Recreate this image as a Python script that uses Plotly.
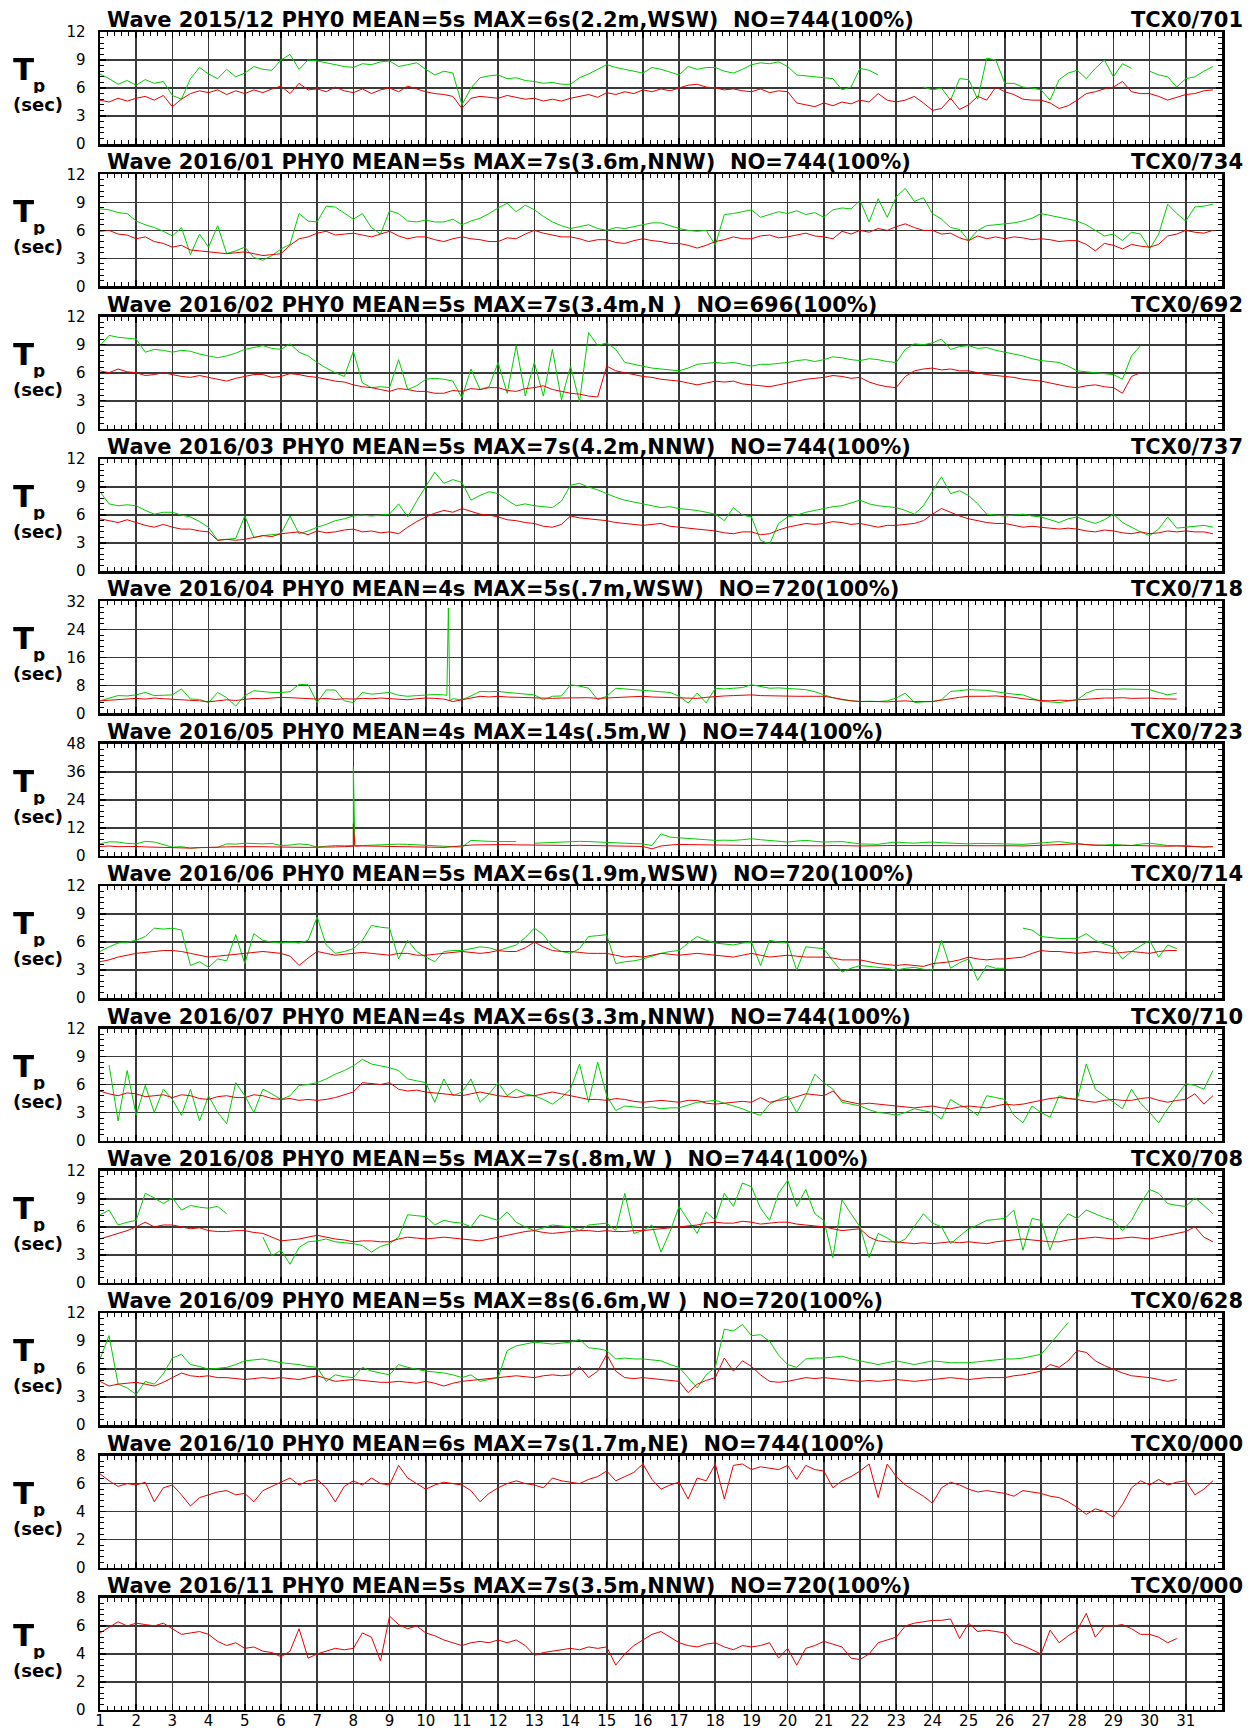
import plotly.graph_objects as go

# ---------------- metadata ----------------
titles = [
    "Wave 2015/12 PHY0 MEAN=5s MAX=6s(2.2m,WSW)\u00a0 NO=744(100%)",
    "Wave 2016/01 PHY0 MEAN=5s MAX=7s(3.6m,NNW)\u00a0 NO=744(100%)",
    "Wave 2016/02 PHY0 MEAN=5s MAX=7s(3.4m,N\u00a0)\u00a0 NO=696(100%)",
    "Wave 2016/03 PHY0 MEAN=5s MAX=7s(4.2m,NNW)\u00a0 NO=744(100%)",
    "Wave 2016/04 PHY0 MEAN=4s MAX=5s(.7m,WSW)\u00a0 NO=720(100%)",
    "Wave 2016/05 PHY0 MEAN=4s MAX=14s(.5m,W\u00a0)\u00a0 NO=744(100%)",
    "Wave 2016/06 PHY0 MEAN=5s MAX=6s(1.9m,WSW)\u00a0 NO=720(100%)",
    "Wave 2016/07 PHY0 MEAN=4s MAX=6s(3.3m,NNW)\u00a0 NO=744(100%)",
    "Wave 2016/08 PHY0 MEAN=5s MAX=7s(.8m,W\u00a0)\u00a0 NO=744(100%)",
    "Wave 2016/09 PHY0 MEAN=5s MAX=8s(6.6m,W\u00a0)\u00a0 NO=720(100%)",
    "Wave 2016/10 PHY0 MEAN=6s MAX=7s(1.7m,NE)\u00a0 NO=744(100%)",
    "Wave 2016/11 PHY0 MEAN=5s MAX=7s(3.5m,NNW)\u00a0 NO=720(100%)",
]
codes = ["TCX0/701", "TCX0/734", "TCX0/692", "TCX0/737", "TCX0/718", "TCX0/723",
         "TCX0/714", "TCX0/710", "TCX0/708", "TCX0/628", "TCX0/000", "TCX0/000"]
ymaxes = [12, 12, 12, 12, 32, 48, 12, 12, 12, 12, 8, 8]
ydticks = [3, 3, 3, 3, 8, 12, 3, 3, 3, 3, 2, 2]
day_ticks = list(range(1, 32))
samples_per_day = 4   # values below are 6-hourly readings

# ---------------- data (6-hourly Tp, seconds) ----------------
red_1512 = [4.7,4.5,4.9,4.6, 4.9,5.1,4.7,5.2, 4.0,4.8,5.4,5.7, 5.5,5.8,5.3,5.7,
            5.4,5.8,5.5,5.9, 6.2,5.4,6.5,5.8, 5.9,5.6,6.1,5.7, 5.5,5.9,5.4,5.8,
            6.0,5.6,6.2,5.9, 5.6,5.4,5.3,5.1, 3.8,4.9,5.1,5.0, 4.9,5.2,5.0,4.8,
            4.9,4.6,4.8,4.6, 4.9,5.1,5.3,5.0, 5.5,5.3,5.6,5.4, 5.8,5.6,5.9,5.7,
            6.0,6.3,6.4,6.1, 6.0,5.8,5.9,5.7, 5.6,5.9,5.5,5.7, 5.6,4.4,4.2,4.0,
            4.4,4.1,4.5,4.3, 4.7,4.5,5.4,4.7, 4.5,4.7,5.1,4.4, 3.6,3.8,4.9,3.7,
            4.2,5.1,4.7,6.1, 5.6,5.3,4.8,4.7, 4.7,4.4,3.8,4.1, 4.7,5.4,5.6,5.9,
            6.1,6.7,5.6,5.4, 5.4,5.1,4.7,5.0, 5.3,5.4,5.7,5.8]
green_1512 = [7.5,7.0,6.4,6.8, 6.3,6.9,6.5,6.7, 5.2,4.8,7.0,8.2, 7.5,7.0,8.0,7.2,
              7.6,8.3,8.0,7.9, 9.0,9.6,8.0,9.0, 8.9,8.7,8.5,8.3, 8.2,8.6,8.5,8.8,
              8.9,8.3,8.5,8.7, 8.0,7.4,7.8,7.6, 4.2,6.0,7.1,7.3, 7.4,7.0,7.1,6.8,
              6.7,6.5,6.6,6.4, 6.4,7.1,7.5,8.0, 8.5,8.2,8.0,7.8, 7.6,8.2,8.0,7.7,
              7.4,8.3,8.0,8.2, 8.2,7.8,7.6,8.0, 8.5,8.7,8.6,8.8, 8.3,7.4,7.3,7.2,
              7.1,7.0,5.8,6.1, 8.1,7.9,7.4,None, None,None,None,6.1, 5.8,6.0,4.7,7.0,
              6.9,4.8,9.2,9.0, 6.5,6.5,6.1,6.0, 5.8,4.7,6.9,7.6, 7.9,7.0,8.1,9.0,
              7.2,8.6,8.1,None, 7.8,7.4,7.2,6.1, 7.0,7.2,7.8,8.3]

red_1601 = [5.9,6.0,5.6,5.5, 5.1,5.3,4.8,4.6, 4.2,4.4,3.9,3.8, 3.7,3.6,3.5,3.6,
            3.7,3.5,3.3,3.4, 3.5,4.4,5.1,5.3, 5.7,5.9,5.5,5.6, 5.7,5.5,5.3,5.6,
            5.9,5.4,5.1,5.3, 5.3,5.0,4.8,5.1, 5.3,5.1,5.0,4.8, 4.8,5.2,5.1,5.6,
            6.0,5.7,5.5,5.3, 5.3,5.1,4.8,5.0, 5.0,4.7,4.6,4.9, 5.1,4.9,4.8,4.6,
            4.6,4.4,4.1,4.4, 4.8,5.0,5.3,5.1, 5.1,5.4,5.5,5.2, 5.3,5.5,5.7,5.4,
            5.3,5.1,5.9,5.6, 6.0,5.8,6.2,6.0, 6.4,6.7,6.3,6.0, 6.0,5.6,5.7,5.2,
            4.9,5.4,5.1,5.3, 5.1,5.3,5.2,5.0, 5.1,5.0,4.8,4.9, 4.9,4.5,3.8,4.6,
            4.4,4.0,4.5,4.3, 4.2,4.5,5.4,5.6, 6.0,5.8,5.7,6.0]
green_1601 = [8.3,8.2,7.9,7.8, 7.0,6.6,6.3,5.9, 5.4,6.3,3.4,5.6, 4.2,6.5,3.5,3.8,
              4.2,3.1,2.8,3.3, 4.0,4.5,7.8,7.0, 6.9,8.6,8.5,7.8, 7.2,7.8,6.3,5.6,
              8.1,7.8,7.0,6.9, 7.1,6.9,6.9,7.2, 6.6,7.0,7.3,7.8, 8.4,8.9,8.0,8.7,
              8.2,7.5,6.9,6.5, 6.2,6.4,6.6,6.2, 6.0,6.3,6.2,6.4, 6.6,6.8,6.8,6.5,
              6.2,6.0,5.9,6.0, 4.4,7.7,7.8,8.0, 8.2,7.4,7.7,8.0, 7.8,8.1,7.7,7.9,
              7.4,8.2,8.4,8.3, 9.2,6.9,9.4,7.4, 9.6,10.5,9.1,9.5, 7.8,7.2,6.3,6.1,
              4.9,6.0,6.5,6.6, 6.7,6.8,7.0,7.3, 7.8,7.6,7.4,7.2, 7.0,6.6,6.0,5.4,
              5.6,4.9,5.8,5.6, 4.0,5.6,8.8,7.8, 7.0,8.5,8.6,8.8]

red_1602 = [6.2,6.0,6.4,6.1, 6.0,5.7,5.8,6.0, 5.8,5.6,5.5,5.7, 5.5,5.3,5.1,5.4,
            5.6,5.8,5.8,5.5, 5.6,5.9,5.8,5.6, 5.5,5.3,5.1,5.0, 4.7,4.5,4.4,4.2,
            4.0,4.3,4.2,4.0, 4.0,3.8,3.8,4.1, 4.0,4.3,4.2,4.4, 4.4,4.1,4.0,4.3,
            4.4,4.6,4.2,4.0, 3.8,3.7,3.5,3.4, 6.7,6.2,6.0,5.8, 5.6,5.5,5.3,5.2,
            5.1,4.9,4.7,4.9, 5.1,5.0,5.1,4.8, 4.7,4.6,4.5,4.7, 4.9,5.1,5.3,5.4,
            5.5,5.7,5.6,5.4, 5.5,5.0,4.7,4.5, 4.4,5.6,6.2,6.4, 6.5,6.3,6.4,6.2,
            6.2,6.0,5.8,5.7, 5.6,5.5,5.3,5.2, 5.1,4.9,4.7,4.5, 4.4,4.6,4.7,4.5,
            4.4,3.8,5.6,6.0]
green_1602 = [8.9,10.0,9.8,9.7, 9.6,8.2,8.5,8.4, 8.2,8.4,8.3,8.0, 7.8,7.6,7.8,8.1,
              8.5,8.7,8.9,8.6, 8.5,9.1,8.2,7.8, 7.1,6.5,6.0,5.6, 8.3,4.9,4.4,4.5,
              4.4,7.4,4.2,4.6, 5.3,5.4,5.3,5.1, 3.3,6.4,4.2,4.5, 7.1,3.8,8.9,3.5,
              7.1,3.5,8.5,3.1, 6.7,2.9,10.3,8.9, 9.2,8.5,7.1,6.9, 6.7,6.5,6.4,6.3,
              6.2,6.5,6.9,7.0, 7.1,7.0,7.1,6.9, 6.7,6.9,6.9,7.0, 7.1,7.3,7.4,7.2,
              7.4,7.7,7.6,7.4, 7.3,7.5,7.4,7.2, 7.1,8.5,9.1,9.0, 9.2,9.6,8.5,8.8,
              8.9,8.6,8.7,8.4, 8.2,8.0,7.8,7.5, 7.3,7.2,7.1,6.7, 6.2,6.1,6.0,5.9,
              5.8,5.3,7.8,8.9]

red_1603 = [5.6,5.4,5.2,5.5, 5.2,4.9,4.7,5.0, 4.7,4.5,4.5,4.3, 4.2,3.3,3.4,3.3,
            3.4,3.6,3.8,3.7, 4.0,4.1,4.2,3.9, 4.3,4.1,4.2,4.4, 4.5,4.2,4.3,4.1,
            4.2,4.0,4.7,5.3, 5.8,6.2,6.5,6.3, 6.7,6.4,6.1,6.0, 5.8,5.5,5.4,5.2,
            5.1,4.8,4.7,5.0, 5.9,5.7,5.6,5.5, 5.4,5.2,5.1,5.0, 4.9,5.0,5.1,4.8,
            4.7,4.6,4.5,4.4, 4.3,4.1,4.0,4.2, 4.2,3.9,4.0,4.4, 4.7,4.9,5.1,5.0,
            5.1,5.3,5.2,5.0, 5.1,4.9,4.7,4.9, 4.9,5.0,5.1,5.4, 6.1,6.7,6.3,5.9,
            5.6,5.4,5.2,5.1, 5.1,4.9,4.7,4.8, 4.7,4.6,4.5,4.6, 4.5,4.3,4.2,4.4,
            4.3,4.1,4.0,4.2, 4.0,4.1,4.3,4.2, 4.3,4.2,4.2,4.0]
green_1603 = [8.5,7.2,7.0,7.1, 7.0,6.5,6.1,6.3, 6.3,6.0,5.8,5.3, 4.7,3.3,3.4,3.5,
              5.9,3.6,3.8,3.9, 4.0,5.9,4.0,4.3, 4.7,5.0,5.4,5.6, 5.9,6.0,5.9,6.0,
              6.1,7.2,5.8,7.5, 9.0,10.6,9.4,9.8, 9.5,7.6,8.1,8.5, 8.3,7.6,7.0,7.2,
              7.0,6.9,6.8,7.5, 9.2,9.4,9.0,8.7, 8.3,7.9,7.6,7.4, 7.2,7.0,6.8,6.9,
              6.7,6.6,6.5,6.3, 6.1,5.4,6.8,6.0, 5.8,3.3,2.9,5.1, 5.8,6.0,6.3,6.5,
              6.7,6.9,7.0,7.3, 7.6,7.2,7.0,6.9, 6.8,6.5,6.1,7.0, 8.6,10.1,8.3,8.6,
              8.1,7.2,6.1,6.0, 5.9,6.0,6.1,5.9, 5.8,5.5,5.2,5.6, 5.8,5.4,5.1,5.5,
              6.1,5.2,4.7,4.2, 3.8,4.5,5.8,4.6, 4.7,4.8,4.9,4.7]

red_1604 = [3.6,3.8,4.0,4.2, 4.3,4.1,4.4,4.2, 4.1,4.0,3.8,3.6, 3.3,3.6,3.9,3.7,
            4.1,4.3,4.2,4.4, 4.6,4.5,4.3,4.1, 4.1,4.3,4.0,4.2, 4.1,4.3,4.2,4.4,
            4.3,4.1,3.9,4.2, 4.4,4.3,4.1,3.4, 3.9,4.3,4.9,4.7, 4.9,4.7,4.6,4.5,
            4.4,4.2,4.3,4.4, 4.4,4.6,4.5,4.3, 4.4,4.5,4.7,4.8, 4.9,4.7,4.6,4.5,
            4.4,4.2,4.3,4.6, 4.9,5.0,5.1,5.2, 5.3,5.1,5.0,5.1, 5.0,4.9,4.9,4.8,
            4.9,4.5,4.0,3.6, 3.4,3.5,3.4,3.3, 3.4,3.6,3.4,3.5, 3.4,3.8,4.3,4.6,
            4.9,4.8,4.9,5.0, 4.9,4.6,4.2,3.9, 3.7,3.6,3.8,3.7, 3.9,4.1,4.3,4.4,
            4.4,4.5,4.3,4.4, 4.4,4.2,4.1,4.1]
green_1604 = [3.6,4.4,5.1,5.0, 5.3,6.0,5.1,5.2, 5.3,7.0,4.1,4.0, 3.1,6.0,4.5,2.1,
              5.1,6.5,6.2,6.0, 6.0,6.2,8.3,8.2, 3.1,6.7,6.7,3.6, 3.1,6.0,5.5,5.7,
              6.0,5.2,4.9,5.1, 5.3,5.4,5.3,4.2, 3.9,5.0,6.3,6.2, 6.3,6.0,5.8,5.5,
              5.3,3.9,4.9,5.0, 8.2,7.8,7.2,3.9, 4.9,7.2,7.0,6.9, 6.8,6.6,6.3,6.0,
              4.9,3.0,5.8,3.0, 7.2,7.0,7.2,7.4, 8.2,7.6,7.2,7.3, 7.2,7.0,6.8,6.2,
              5.3,4.5,3.9,3.6, 3.4,3.5,3.4,3.6, 4.4,5.8,3.1,3.3, 3.4,3.9,6.3,6.5,
              6.8,6.7,6.6,6.2, 5.8,5.5,5.3,4.4, 3.4,3.3,3.1,3.5, 3.9,5.8,6.8,6.9,
              6.8,7.0,7.0,6.9, 6.8,6.0,5.3,5.8]
# single-hour spikes: (day, value before, peak, value after)
spikes_green_1604 = [(10.625, 5.2, 30.1, 3.6)]

red_1605 = [4.0,4.2,3.9,4.1, 4.0,3.8,3.7,3.6, 3.4,3.5,3.3,3.5, 3.5,3.6,3.8,3.9,
            4.0,4.1,3.9,3.8, 3.7,3.6,3.5,3.6, 3.7,3.6,3.8,3.9, 4.1,4.2,4.0,4.1,
            4.0,3.9,3.8,3.7, 3.7,3.8,3.6,3.9, 4.4,4.6,4.7,4.8, 4.9,4.8,4.7,4.6,
            4.6,4.5,4.6,4.5, 4.4,4.5,4.4,4.3, 4.4,4.3,4.2,4.1, 4.0,3.0,4.2,4.6,
            4.9,4.8,4.7,4.6, 4.6,4.5,4.6,4.5, 4.4,4.5,4.6,4.4, 4.4,4.3,4.5,4.4,
            4.3,4.4,4.2,4.3, 4.2,4.1,4.3,4.4, 4.4,4.5,4.4,4.3, 4.4,4.5,4.6,4.4,
            4.4,4.3,4.5,4.6, 4.5,4.3,4.2,4.4, 4.6,4.8,5.0,5.1, 5.1,4.8,4.6,4.5,
            4.3,4.5,4.4,4.2, 4.4,4.3,4.1,4.2, 4.0,3.9,3.8,3.9]
green_1605 = [5.1,6.0,5.9,5.3, 5.1,6.2,5.9,4.8, 3.7,3.9,3.3,3.5, 3.4,3.6,5.1,5.0,
              5.4,5.2,5.1,5.3, 4.4,4.6,5.1,4.8, 3.7,4.1,4.4,4.3, 4.4,4.4,4.6,4.8,
              5.1,5.0,4.9,4.7, 4.4,4.2,4.0,3.8, 3.7,6.6,6.3,6.2, 6.1,6.2,6.1,None,
              5.4,5.6,5.9,6.0, 6.1,6.2,6.1,6.0, 5.9,5.7,5.4,5.2, 5.1,4.4,9.4,8.0,
              7.7,7.3,7.0,6.8, 6.6,6.7,6.6,6.9, 7.3,6.9,6.6,6.3, 5.9,6.3,6.6,6.2,
              5.9,6.0,6.1,5.6, 5.1,5.0,4.9,5.5, 5.9,5.6,5.4,5.7, 5.9,5.6,5.4,5.2,
              5.1,5.3,5.4,5.2, 5.1,5.0,4.9,5.2, 5.4,5.8,6.1,5.6, 5.1,4.7,4.4,4.6,
              4.9,4.6,4.4,5.0, 5.4,4.9,4.4,4.3, 4.4,4.0,3.7,3.9]
spikes_red_1605 = [(8.0, 4.0, 13.7, 4.1)]
spikes_green_1605 = [(8.0, 4.3, 38.0, 4.4)]

red_1606 = [3.9,4.1,4.4,4.6, 4.8,4.9,5.0,5.1, 5.1,5.0,4.8,4.6, 4.4,4.5,4.6,4.7,
            4.8,4.9,5.0,4.9, 4.8,4.5,3.5,4.3, 5.0,4.8,4.6,4.7, 4.8,4.9,4.8,4.7,
            4.6,4.8,4.8,4.6, 4.6,4.7,4.8,4.9, 5.0,4.9,4.8,4.9, 5.1,5.0,5.0,5.4,
            6.0,5.5,5.1,5.0, 5.0,4.9,4.8,4.8, 4.8,4.6,4.4,4.5, 4.4,4.6,4.8,4.7,
            4.6,4.7,4.8,4.7, 4.6,4.5,4.4,4.6, 4.8,4.6,4.4,4.5, 4.6,4.5,4.4,4.4,
            4.4,4.3,4.1,4.1, 4.1,3.9,3.7,3.6, 3.5,3.6,3.5,3.4, 3.7,3.8,3.9,4.1,
            4.4,4.2,4.1,4.2, 4.2,4.3,4.4,4.8, 5.1,5.0,5.0,4.9, 4.8,4.9,5.0,4.9,
            4.8,4.9,5.0,4.9, 4.8,5.0,5.1,5.1]
green_1606 = [5.0,5.5,5.9,6.0, 6.2,6.6,7.5,7.4, 7.5,7.3,3.5,3.9, 3.3,4.2,4.0,6.8,
              3.7,6.9,6.2,6.0, 5.9,6.0,5.9,6.2, 8.7,5.7,4.8,5.0, 5.3,6.2,7.8,7.6,
              7.5,4.2,6.2,5.0, 4.4,3.9,5.0,5.1, 5.1,5.3,5.5,5.4, 5.1,5.4,5.7,6.5,
              7.5,6.8,5.5,5.0, 4.8,5.3,6.6,6.7, 6.8,3.7,3.9,4.0, 4.2,4.5,4.8,5.0,
              5.1,5.9,6.6,6.2, 5.9,5.8,5.7,5.9, 6.0,3.5,6.2,6.0, 5.9,3.0,5.5,5.4,
              5.3,4.0,2.8,3.2, 3.5,3.4,3.3,3.2, 3.0,3.2,3.3,3.1, 3.0,6.2,3.2,3.8,
              4.2,1.9,3.5,3.2, 3.2,None,7.5,7.3, 6.6,6.5,6.4,6.4, 6.4,6.9,6.2,5.8,
              5.5,4.2,5.0,5.6, 6.2,4.4,5.7,5.3]

red_1607 = [5.3,5.0,4.8,5.1, 5.0,4.7,4.8,4.9, 4.6,4.9,4.8,4.5, 4.4,4.7,4.8,4.6,
            4.6,4.9,4.8,4.5, 4.4,4.5,4.3,4.4, 4.3,4.4,4.6,4.9, 5.2,6.2,6.1,6.0,
            6.2,5.5,5.3,5.4, 5.2,5.1,5.0,4.9, 4.8,5.0,5.2,5.0, 4.8,4.7,4.6,4.8,
            4.8,5.0,5.2,5.0, 4.8,4.6,4.4,4.4, 4.3,4.5,4.4,4.2, 4.1,4.2,4.3,4.2,
            4.1,4.3,4.3,4.0, 3.9,4.0,4.1,4.2, 4.1,4.6,4.1,4.3, 4.4,4.7,5.0,4.9,
            4.8,5.3,4.3,4.1, 3.9,4.0,3.9,3.8, 3.7,3.6,3.5,3.6, 3.7,3.5,3.4,3.6,
            3.7,3.6,3.5,3.7, 3.9,3.8,3.9,4.1, 4.3,4.5,4.6,4.5, 4.4,4.2,4.1,4.3,
            4.4,4.3,4.3,4.5, 4.6,4.3,4.1,4.3, 4.4,5.0,3.9,4.8]
green_1607 = [None,8.1,2.1,7.5, 2.7,5.9,3.0,5.5, 4.4,2.7,5.5,2.1, 4.8,3.0,1.8,6.2,
              4.8,3.0,5.5,5.0, 4.4,4.8,5.9,6.0, 6.2,6.6,7.1,7.5, 8.0,8.7,8.2,8.0,
              7.8,7.5,6.6,6.4, 6.2,4.1,6.6,4.8, 5.2,6.6,4.1,5.0, 6.2,4.8,5.5,5.0,
              4.8,4.4,3.9,4.6, 5.5,8.2,4.1,8.4, 4.8,3.2,3.7,3.6, 3.5,3.6,3.4,3.5,
              3.5,3.8,4.1,4.2, 4.3,4.0,3.7,3.4, 3.0,2.7,3.9,4.4, 4.8,3.0,4.8,7.1,
              6.2,5.5,4.1,3.9, 3.7,3.3,3.0,2.9, 2.7,3.0,3.4,3.2, 3.0,2.3,4.4,3.8,
              3.4,2.7,4.8,4.6, 4.4,2.7,1.9,3.7, 3.0,2.5,4.8,4.5, 4.4,8.2,5.5,4.8,
              4.1,3.4,5.5,4.0, 3.0,1.9,3.4,4.8, 6.1,5.9,5.5,7.5]

red_1608 = [4.7,5.0,5.3,5.6, 6.0,6.5,6.0,6.2, 6.2,6.0,5.8,5.9, 5.6,5.5,5.5,5.6,
            5.6,5.4,5.3,4.9, 4.5,4.6,4.7,4.9, 5.1,4.9,4.7,4.6, 4.4,4.5,4.5,4.4,
            4.4,4.7,4.9,4.8, 4.7,4.8,4.9,4.8, 4.7,4.6,4.5,4.7, 4.9,5.1,5.3,5.5,
            5.6,5.4,5.3,5.4, 5.5,5.6,5.6,5.5, 5.6,5.5,5.5,5.6, 5.6,5.7,5.8,5.9,
            6.0,6.1,6.2,6.4, 6.5,6.4,6.4,6.6, 6.5,6.3,6.4,6.5, 6.5,6.3,6.2,6.1,
            6.0,5.8,5.6,5.7, 5.8,4.9,4.5,4.4, 4.4,4.3,4.2,4.3, 4.2,4.3,4.4,4.3,
            4.4,4.3,4.2,4.4, 4.5,4.6,4.7,4.6, 4.5,4.4,4.4,4.6, 4.7,4.8,4.9,4.8,
            4.7,4.8,4.9,4.8, 4.7,4.9,5.1,5.3, 5.5,6.0,4.9,4.4]
green_1608 = [7.3,7.8,6.2,6.5, 6.7,9.6,9.1,8.5, 9.1,7.8,8.3,8.1, 8.0,8.2,7.4,None,
              None,None,4.9,2.9, 3.5,2.0,3.8,4.4, 4.5,4.7,4.4,4.3, 4.2,4.0,3.3,3.9,
              4.2,4.9,7.3,7.2, 7.1,6.2,6.7,6.5, 6.4,6.0,7.3,7.0, 6.7,7.6,6.5,6.0,
              5.6,5.9,6.2,6.1, 6.0,5.6,6.2,6.3, 6.4,5.6,9.6,5.3, 5.6,6.2,3.3,5.5,
              8.2,6.7,5.3,7.6, 6.7,9.6,8.2,10.7, 10.3,8.0,6.7,9.6, 11.0,8.2,10.0,7.4,
              6.7,2.7,8.9,7.4, 6.0,2.7,5.3,4.8, 4.2,4.7,6.0,7.4, 6.4,6.0,4.2,5.0,
              5.8,6.2,6.7,6.8, 6.9,7.8,3.5,6.9, 6.7,3.5,6.2,7.4, 6.9,7.8,7.4,7.0,
              6.7,5.6,6.7,8.5, 10.0,9.6,8.5,8.3, 8.2,9.1,8.3,7.4]

red_1609 = [4.7,4.2,4.4,4.5, 4.6,4.4,4.2,4.6, 5.1,5.6,5.3,5.2, 5.3,5.1,5.1,5.0,
            4.9,5.0,5.1,5.0, 5.1,5.0,4.9,5.1, 5.3,5.0,4.7,4.8, 4.9,4.8,4.7,4.6,
            4.6,4.7,4.6,4.5, 4.7,4.5,4.2,4.5, 4.7,4.8,4.9,5.0, 5.1,5.2,5.3,5.2,
            5.1,5.3,5.4,5.3, 5.4,6.3,5.1,5.8, 7.6,5.8,5.1,5.0, 5.1,5.0,4.9,4.8,
            4.7,3.5,4.4,4.8, 5.1,7.2,5.8,6.9, 6.3,5.4,4.7,4.6, 4.7,4.9,5.1,5.0,
            5.1,5.0,4.9,4.8, 4.7,4.8,4.7,4.8, 4.9,4.8,4.7,4.8, 4.9,5.0,5.1,5.0,
            4.9,5.0,5.1,5.1, 5.1,5.3,5.4,5.6, 5.8,6.5,6.2,6.9, 8.0,7.8,6.9,6.4,
            6.0,5.6,5.3,5.2, 5.1,4.9,4.7,4.9]
green_1609 = [7.1,9.6,4.4,4.0, 3.3,4.7,4.4,5.5, 7.2,7.6,6.5,6.3, 6.0,6.1,6.2,6.5,
              6.9,7.0,7.1,6.9, 6.7,6.6,6.5,6.3, 6.2,4.7,5.4,5.2, 5.1,6.2,5.8,5.6,
              5.4,6.5,6.2,6.0, 5.8,5.7,5.6,5.4, 5.1,5.4,4.7,4.9, 5.1,8.0,8.5,8.7,
              8.9,8.8,8.7,8.8, 8.9,9.2,8.3,8.2, 8.0,7.1,7.2,7.1, 7.1,7.0,6.9,6.5,
              6.2,5.1,4.0,5.4, 6.2,10.3,10.1,10.8, 9.6,9.7,9.0,7.5, 6.5,6.2,7.1,7.2,
              7.2,7.3,7.4,7.1, 6.9,6.7,6.5,6.7, 6.9,6.7,6.5,6.7, 6.9,6.8,6.7,6.7,
              6.7,6.8,6.9,7.0, 7.1,7.1,7.2,7.4, 7.6,8.7,9.9,11.0]

red_1610 = [6.7,6.2,5.8,6.0, 5.9,6.1,4.7,5.7, 5.9,5.2,4.4,5.0, 5.2,5.4,5.5,5.2,
            5.3,4.7,5.5,5.8, 6.1,6.4,5.9,6.2, 6.3,5.7,4.7,5.8, 6.2,5.9,6.4,6.0,
            5.9,7.3,6.4,6.0, 5.6,5.9,6.1,6.0, 5.9,5.5,4.7,5.3, 5.7,6.0,6.2,6.0,
            5.9,5.7,6.4,6.2, 6.1,6.0,6.3,6.5, 6.9,6.2,6.5,6.8, 7.4,6.3,5.6,5.9,
            6.1,4.9,6.4,6.2, 7.4,4.9,7.3,7.4, 7.0,7.2,7.1,7.0, 7.3,6.3,7.3,7.0,
            6.9,5.7,6.2,6.5, 6.9,7.4,5.0,7.4, 6.5,5.9,5.5,5.1, 4.6,5.7,6.1,5.9,
            5.6,5.4,5.5,5.4, 5.3,5.1,5.5,5.4, 5.3,5.1,5.0,4.7, 4.3,3.8,4.2,4.0,
            3.6,4.5,5.7,6.2, 5.9,6.3,5.9,6.1, 6.2,5.2,5.6,6.2]

red_1611 = [5.5,5.9,6.3,6.0, 6.2,6.1,6.0,6.2, 5.8,5.4,5.5,5.6, 5.4,4.9,4.6,4.8,
            4.4,4.5,4.2,4.1, 3.8,4.2,5.8,3.7, 4.0,4.2,4.4,4.3, 4.4,5.5,5.2,3.5,
            6.7,6.1,5.8,6.0, 5.5,5.3,5.0,4.8, 4.6,4.8,4.9,4.8, 5.0,4.8,5.0,4.6,
            3.9,4.1,4.2,4.3, 4.4,4.3,4.5,4.4, 4.5,3.2,4.0,4.6, 5.0,5.4,5.6,5.2,
            4.8,4.6,4.5,4.7, 4.8,4.5,4.3,4.6, 4.5,4.6,4.8,3.7, 4.4,3.2,4.4,4.6,
            4.9,4.7,4.5,3.7, 3.6,4.0,4.8,5.0, 5.2,6.0,6.2,6.3, 6.4,6.4,6.5,5.1,
            6.2,5.6,5.7,5.6, 5.5,4.8,4.6,4.3, 4.0,5.7,4.8,5.3, 5.7,6.9,5.2,6.0,
            6.0,6.1,5.8,5.4, 5.4,5.2,4.8,5.1]

red_series = [red_1512, red_1601, red_1602, red_1603, red_1604, red_1605,
              red_1606, red_1607, red_1608, red_1609, red_1610, red_1611]
green_series = [green_1512, green_1601, green_1602, green_1603, green_1604, green_1605,
                green_1606, green_1607, green_1608, green_1609, None, None]
red_spikes = [[], [], [], [], [], spikes_red_1605, [], [], [], [], [], []]
green_spikes = [[], [], [], [], spikes_green_1604, spikes_green_1605,
                [], [], [], [], [], []]


def build(values, spikes):
    pts = [(1 + i / samples_per_day, v) for i, v in enumerate(values)]
    for day, before, peak, after in spikes:
        pts += [(day - 1 / 24, before), (day, peak), (day + 1 / 24, after)]
    pts.sort(key=lambda q: q[0])
    return [q[0] for q in pts], [q[1] for q in pts]


# ---------------- layout geometry ----------------
W, H = 1255, 1729
ML, MR, MT, MB = 100, 33, 32, 19
PLOT_H = H - MT - MB
PITCH = 142.36
PANEL_H = 112
BOTTOM_PX = H - MB


def py(px):
    return (BOTTOM_PX - px) / PLOT_H


def pxx(px):
    return (px - ML) / (W - ML - MR)


RED = "#e60000"
GREEN = "#00cc00"
GRID = "#3a3a3a"
FONT = "DejaVu Sans"

fig = go.Figure()
layout = dict(
    width=W, height=H,
    margin=dict(l=ML, r=MR, t=MT, b=MB, pad=0, autoexpand=False),
    paper_bgcolor="white", plot_bgcolor="white",
    showlegend=False,
    font=dict(family=FONT, color="black"),
)
annotations = []

for k in range(12):
    sfx = "" if k == 0 else str(k + 1)
    xa, ya = "x" + sfx, "y" + sfx
    top_px = MT + PITCH * k
    dom = [max(0.0, py(top_px + PANEL_H)), min(1.0, py(top_px))]

    g = green_series[k]
    if g is not None:
        gx, gy = build(g, green_spikes[k])
        fig.add_trace(go.Scatter(
            x=gx, y=gy, mode="lines", line=dict(color=GREEN, width=1),
            xaxis=xa, yaxis=ya, hoverinfo="skip", connectgaps=False))
    rx, ry = build(red_series[k], red_spikes[k])
    fig.add_trace(go.Scatter(
        x=rx, y=ry, mode="lines", line=dict(color=RED, width=1),
        xaxis=xa, yaxis=ya, hoverinfo="skip"))

    ymax, dt = ymaxes[k], ydticks[k]
    layout["xaxis" + sfx] = dict(
        domain=[0, 1], range=[1, 32], anchor=ya,
        tickmode="array", tickvals=day_ticks, ticktext=[str(d) for d in day_ticks],
        showticklabels=(k == 11), ticklabelstandoff=-4,
        ticks="inside", ticklen=6, tickwidth=1.5, tickcolor="black",
        showgrid=True, gridcolor=GRID, gridwidth=1.6,
        showline=True, linecolor="black", linewidth=2.5, mirror="ticks",
        zeroline=False, fixedrange=True,
        minor=dict(ticks="inside", ticklen=4, tickwidth=1, tickcolor="black",
                   tickmode="linear", tick0=1, dtick=0.2, showgrid=False),
        tickfont=dict(family=FONT, size=15, color="black"),
    )
    layout["yaxis" + sfx] = dict(
        domain=dom, range=[0, ymax], anchor=xa,
        tickmode="linear", tick0=0, dtick=dt,
        ticks="inside", ticklen=6, tickwidth=1.5, tickcolor="black",
        showgrid=True, gridcolor=GRID, gridwidth=1.6,
        showline=True, linecolor="black", linewidth=2.5, mirror="ticks",
        zeroline=False, fixedrange=True, ticklabelstandoff=9,
        minor=dict(ticks="inside", ticklen=4, tickwidth=1, tickcolor="black",
                   tickmode="linear", tick0=0, dtick=dt / 5, showgrid=False),
        tickfont=dict(family=FONT, size=15, color="black"),
    )

    annotations.append(dict(
        xref="paper", yref="paper", x=pxx(105), y=py(top_px + 2),
        xanchor="left", yanchor="bottom", showarrow=False,
        text="<b>" + titles[k] + "</b>",
        font=dict(family=FONT, size=21, color="black")))
    annotations.append(dict(
        xref="paper", yref="paper", x=pxx(1245), y=py(top_px + 2),
        xanchor="right", yanchor="bottom", showarrow=False,
        text="<b>" + codes[k] + "</b>",
        font=dict(family=FONT, size=21, color="black")))
    annotations.append(dict(
        xref="paper", yref="paper", x=pxx(11), y=py(top_px + 37),
        xanchor="left", yanchor="middle", showarrow=False, height=26,
        text="<b>T</b>", font=dict(family=FONT, size=31, color="black")))
    annotations.append(dict(
        xref="paper", yref="paper", x=pxx(31), y=py(top_px + 54),
        xanchor="left", yanchor="middle", showarrow=False, height=14,
        text="<b>p</b>", font=dict(family=FONT, size=17, color="black")))
    annotations.append(dict(
        xref="paper", yref="paper", x=pxx(38), y=py(top_px + 72),
        xanchor="center", yanchor="middle", showarrow=False, height=18,
        text="<b>(sec)</b>", font=dict(family=FONT, size=18, color="black")))

layout["annotations"] = annotations
fig.update_layout(**layout)

fig.write_html("out.html", config={"displayModeBar": False, "staticPlot": True},
               post_script="document.body.style.margin='0';document.body.style.overflow='hidden';")
